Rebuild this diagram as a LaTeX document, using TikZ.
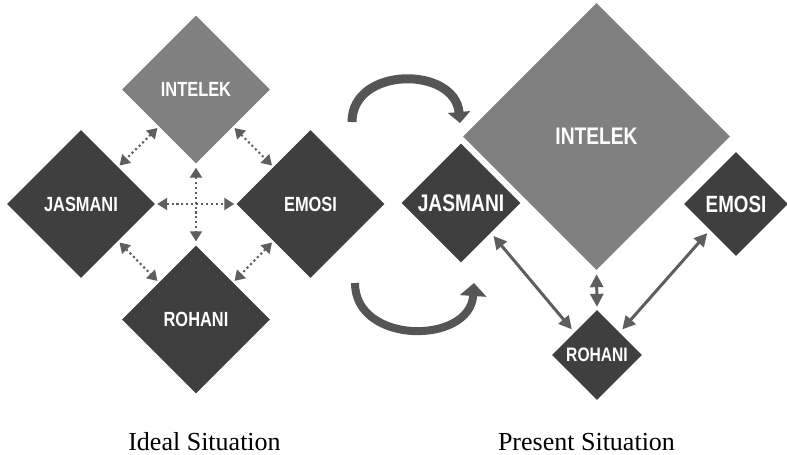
\documentclass[tikz,border=0pt]{standalone}
\usepackage{fontspec}
\setmainfont{Liberation Serif}
\newfontfamily\boxfont[FakeStretch=0.8]{Liberation Sans}
\usetikzlibrary{arrows.meta,shapes.geometric}
\definecolor{lightbox}{HTML}{808080}
\definecolor{darkbox}{HTML}{3F3F3F}
\definecolor{arrowgray}{HTML}{5E5E5E}
\definecolor{bendgray}{HTML}{555555}
\tikzset{box/.style={diamond,aspect=1,inner sep=0pt,text=white,
    font=\boxfont\bfseries\fontsize{#1}{#1}\selectfont}}
\tikzstyle{dotarrow} = [arrowgray,line width=2.1pt,dash pattern=on 2.1pt off 2.8pt,
    {Triangle[length=10pt,width=12pt]}-{Triangle[length=10pt,width=12pt]}]
\tikzstyle{solidarrow} = [arrowgray,line width=3pt,
    {Triangle[length=13pt,width=13pt]}-{Triangle[length=13pt,width=13pt]}]
\tikzstyle{bendarrow} = [bendgray,line width=9pt]

\begin{document}
\begin{tikzpicture}[x=1pt,y=-1pt]
		\useasboundingbox (0,0) rectangle (787,455);

		% define constants
		\def \big {148pt}
		\def \fs {20.5}

		% Ideal situation
		\node[box=\fs,fill=lightbox,minimum size=\big] (intA) at (196,89.5) {INTELEK};
		\node[box=\fs,fill=darkbox,minimum size=\big] (jasA) at (81,204) {JASMANI};
		\node[box=\fs,fill=darkbox,minimum size=\big] (emoA) at (310.5,204) {EMOSI};
		\node[box=\fs,fill=darkbox,minimum size=\big] (rohA) at (196,319.5) {ROHANI};

		\draw[dotarrow,shorten <=2pt,shorten >=2pt] (intA.south west) -- (jasA.north east);
		\draw[dotarrow,shorten <=2pt,shorten >=2pt] (intA.south east) -- (emoA.north west);
		\draw[dotarrow,shorten <=2pt,shorten >=2pt] (jasA.south east) -- (rohA.north west);
		\draw[dotarrow,shorten <=2pt,shorten >=2pt] (emoA.south west) -- (rohA.north east);
		\draw[dotarrow,shorten <=4pt,shorten >=4pt] (intA.south) -- (rohA.north);
		\draw[dotarrow,shorten <=2pt,shorten >=2pt] (jasA.east) -- (emoA.west);

		% Present situation
		\node[box=24,fill=lightbox,minimum size=267pt] (intB) at (596.5,136.5) {INTELEK};
		\node[box=24,fill=darkbox,minimum size=119pt] (jasB) at (461,203) {JASMANI};
		\node[box=23.5,fill=darkbox,minimum size=104pt] (emoB) at (736,204) {EMOSI};
		\node[box=19.5,fill=darkbox,minimum size=90pt] (rohB) at (597,355) {ROHANI};

		\draw[solidarrow,shorten <=4pt,shorten >=4pt] (jasB.south east) -- (rohB.north west);
		\draw[solidarrow,shorten <=4pt,shorten >=4pt] (emoB.south west) -- (rohB.north east);
		\draw[solidarrow,shorten <=4pt,shorten >=3pt] (intB.south) -- (rohB.north);

		% Turning arrows between the two
		\coordinate (upFrom) at (352,122);
		\coordinate (upTo) at (460,123);
		\coordinate (downFrom) at (355,283);
		\coordinate (downTo) at (474,283);
		\draw[bendarrow,-{Triangle[length=11pt,width=22pt]}] (upFrom) .. controls (352,66) and (455,66) .. (upTo);
		\draw[bendarrow,line width=8pt,-{Triangle[length=13pt,width=26pt]}] (downFrom) .. controls (355,345) and (470,345) .. (downTo);

		% Captions
		\node[anchor=base,font=\fontsize{26}{30}\selectfont] (idealTxt) at (204.5,450) {Ideal Situation};
		\node[anchor=base,font=\fontsize{26}{30}\selectfont] (presentTxt) at (586.5,450) {Present Situation};
\end{tikzpicture}
\end{document}
